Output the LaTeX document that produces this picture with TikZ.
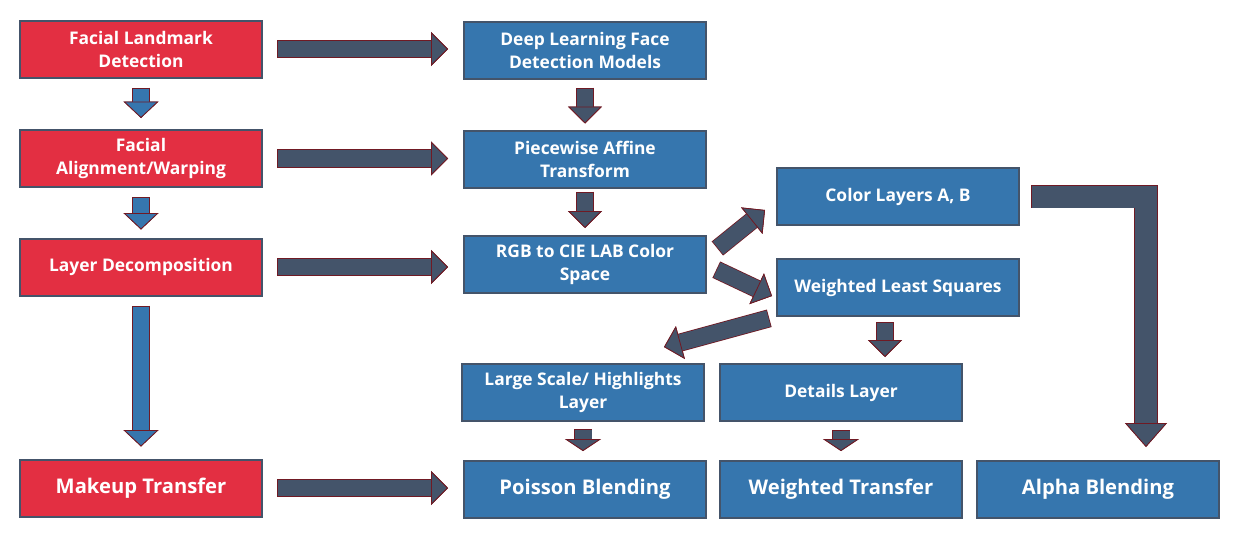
\documentclass[tikz,border=0pt]{standalone}
\usepackage{fontspec}
\setmainfont{Open Sans}
\usetikzlibrary{arrows.meta}
\definecolor{stagered}{RGB}{227,47,66}
\definecolor{stageblue}{RGB}{54,118,174}
\definecolor{boxrim}{RGB}{68,84,106}
\definecolor{slate}{RGB}{68,84,106}
\definecolor{arrowrim}{RGB}{112,26,36}
\newcommand*\stagefont{\fontsize{17.4}{23}\selectfont\bfseries}
\newcommand*\finalfont{\fontsize{20.2}{24}\selectfont\bfseries}
\tikzset{
  stage/.style={draw=boxrim, line width=2pt, minimum width=242pt, minimum height=57pt,
    inner sep=0pt, align=center, text=white, font=\stagefont},
  redstage/.style={stage, fill=stagered},
  bluestage/.style={stage, fill=stageblue},
  final/.style={font=\finalfont},
  fat/.style n args={4}{line width=#2, draw=#1, line join=miter,
    -{Triangle[width=#3, length=#4, line width=0.8pt, color=arrowrim, fill=#1]},
    preaction={draw=arrowrim, line width=#2+1.6pt, shorten <=-0.8pt,
      -{Triangle[width=#3, length=#4, line width=0.8pt, color=arrowrim, fill=#1]}}},
  darkfat/.style={fat={slate}{16.5pt}{34pt}{17pt}},
  bluefat/.style={fat={stageblue}{16.5pt}{35pt}{16.5pt}},
  stubfat/.style={fat={slate}{17pt}{36pt}{12pt}}
}
\begin{document}
\begin{tikzpicture}[x=1pt, y=-1pt]
  \useasboundingbox (0,0) rectangle (1235,533);
  \node[redstage] (fld) at (141,49) {Facial Landmark\\Detection};
  \node[redstage] (faa) at (141,158.5) {Facial\\Alignment/Warping};
  \node[redstage] (ld) at (141,267) {Layer Decomposition};
  \node[redstage, final] (mt) at (141,488) {Makeup Transfer};

  \node[bluestage] (dl) at (585,50) {Deep Learning Face\\Detection Models};
  \node[bluestage] (pat) at (585,159) {Piecewise Affine\\Transform};
  \node[bluestage] (rgb) at (585,264.5) {RGB to CIE LAB Color\\Space};
  \node[bluestage] (cl) at (898,196.5) {Color Layers A, B};
  \node[bluestage] (wls) at (898,287.5) {Weighted Least Squares};
  \node[bluestage] (ls) at (583,392.5) {Large Scale/ Highlights\\Layer};
  \node[bluestage] (dt) at (841,392.5) {Details Layer};
  \node[bluestage, final] (pb) at (585,489.5) {Poisson Blending};
  \node[bluestage, final] (wt) at (841,489.5) {Weighted Transfer};
  \node[bluestage, final] (ab) at (1098,489.5) {Alpha Blending};

  % left column
  \draw[darkfat] ([xshift=15pt]fld.east) -- ([xshift=-15pt]fld.east -| dl.west);
  \draw[darkfat] ([xshift=15pt]faa.east) -- ([xshift=-15pt]faa.east -| pat.west);
  \draw[darkfat] ([xshift=15pt]ld.east) -- ([xshift=-15pt]ld.east -| rgb.west);
  \draw[darkfat] ([xshift=15pt]mt.east) -- ([xshift=-15pt]mt.east -| pb.west);
  \draw[bluefat] ([yshift=-10pt]fld.south) -- ([yshift=11pt]faa.north);
  \draw[bluefat] ([yshift=-10pt]faa.south) -- ([yshift=8pt]ld.north);
  \draw[bluefat] ([yshift=-10pt]ld.south) -- ([yshift=12pt]mt.north);

  % middle column
  \draw[darkfat] ([yshift=-9pt]dl.south) -- ([yshift=6pt]pat.north);
  \draw[darkfat] ([yshift=-4pt]pat.south) -- ([yshift=7pt]rgb.north);
  \draw[darkfat] ([xshift=11pt,yshift=16.5pt]rgb.east) -- ([xshift=-11pt,yshift=-13.5pt]cl.west);
  \draw[darkfat] ([xshift=10pt,yshift=-5.5pt]rgb.east) -- ([xshift=-4pt,yshift=-8.5pt]wls.west);
  \draw[darkfat] ([xshift=-7.5pt,yshift=-1.5pt]wls.south west) -- ([xshift=-41pt,yshift=16pt]ls.north east);
  \coordinate (wlsdrop) at ([xshift=-13pt]wls.south);
  \draw[darkfat] ([yshift=-6pt]wlsdrop) -- ([yshift=6pt]wlsdrop |- dt.north);
  \draw[stubfat] ([yshift=-8pt]ls.south) -- ([yshift=9pt]ls.south |- pb.north);
  \draw[stubfat] ([yshift=-9pt]dt.south) -- ([yshift=9pt]dt.south |- wt.north);

  % colour layers to alpha
  \draw[fat={slate}{22pt}{42pt}{24pt}] ([xshift=12pt]cl.east) -| ([xshift=48pt,yshift=13pt]ab.north);
\end{tikzpicture}
\end{document}
